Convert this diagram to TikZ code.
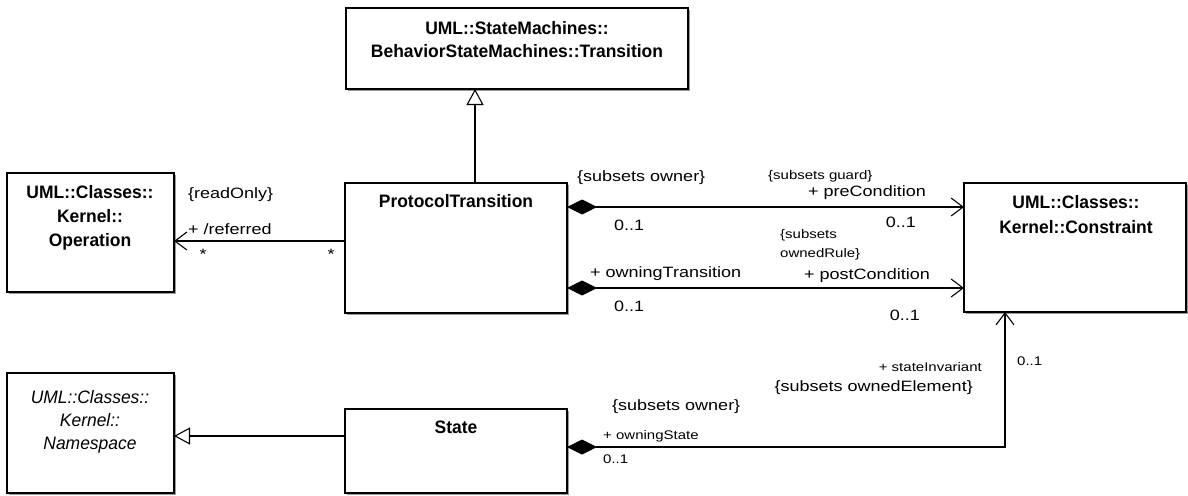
\documentclass[tikz,border=0pt]{standalone}
\usepackage{fontspec}
\setmainfont[FakeStretch=1.2]{Liberation Sans}
\newfontfamily\clsfont[FakeStretch=0.97]{Liberation Sans}
\usetikzlibrary{arrows.meta,shadows}
\begin{document}
\begin{tikzpicture}[x=1pt,y=-1pt,
  cls/.style={draw=black, line width=1.1pt, fill=white, rectangle, inner sep=0pt, outer sep=0pt,
    anchor=north west,
    drop shadow={shadow xshift=2pt, shadow yshift=-2pt, fill=black!55, opacity=0.7}},
  cname/.style={font=\clsfont\bfseries\fontsize{18}{22}\selectfont, anchor=base, inner sep=0pt},
  iname/.style={font=\clsfont\itshape\fontsize{18}{22}\selectfont, anchor=base, inner sep=0pt},
  lbl/.style={font=\fontsize{15}{18}\selectfont, inner sep=0pt},
  slbl/.style={font=\fontsize{12.5}{15}\selectfont, inner sep=0pt},
  comp/.style={line width=1.1pt, {Diamond[length=30pt,width=15pt]}-{Straight Barb[length=12pt,width=18pt,line width=1.1pt]}},
  nav/.style={line width=1.1pt, -{Straight Barb[length=12pt,width=18pt,line width=1.1pt]}},
  gen/.style={line width=1.1pt, -{Triangle[open,length=16pt,width=17pt,fill=white,line width=1.1pt]}}
]
\useasboundingbox (0,0) rectangle (1188,495);
\fill[white] (0,0) rectangle (1188,495);

% class boxes
\node[cls, minimum width=342pt, minimum height=81pt] (trans) at (346,8) {};
\node[cls, minimum width=222pt, minimum height=130pt] (pt) at (345,183) {};
\node[cls, minimum width=167pt, minimum height=119pt] (op) at (7,173) {};
\node[cls, minimum width=222pt, minimum height=129pt] (con) at (964,183) {};
\node[cls, minimum width=167pt, minimum height=120pt] (ns) at (7,373) {};
\node[cls, minimum width=222pt, minimum height=84pt] (st) at (345,409) {};

% class names
\node[cname] (transA) at (517,35) {UML::StateMachines::};
\node[cname] (transB) at (517,58) {BehaviorStateMachines::Transition};
\node[cname] (ptA) at (456,207) {ProtocolTransition};
\node[cname] (opA) at (90,198) {UML::Classes::};
\node[cname] (opB) at (90,222) {Kernel::};
\node[cname] (opC) at (90,246) {Operation};
\node[cname] (conA) at (1076,208) {UML::Classes::};
\node[cname] (conB) at (1076,233) {Kernel::Constraint};
\node[iname] (nsA) at (90,403) {UML::Classes::};
\node[iname] (nsB) at (90,426) {Kernel::};
\node[iname] (nsC) at (90,449) {Namespace};
\node[cname] (stA) at (456,433) {State};

% attachment points
\coordinate (ptTop) at (475,183);
\coordinate (transBot) at (475,89);
\coordinate (ptW) at (345,241);
\coordinate (opE) at (174,241);
\coordinate (ptPre) at (567,207);
\coordinate (conPre) at (964,207);
\coordinate (ptPost) at (567,288);
\coordinate (conPost) at (964,288);
\coordinate (stE) at (567,447);
\coordinate (bend) at (1005,447);
\coordinate (conBot) at (1005,312);
\coordinate (stW) at (345,436);
\coordinate (nsE) at (174,436);

% connectors
\draw[gen] (ptTop) -- (transBot);
\draw[gen] (stW) -- (nsE);
\draw[nav] (ptW) -- (opE);
\draw[comp] (ptPre) -- (conPre);
\draw[comp] (ptPost) -- (conPost);
\draw[comp] (stE) -- (bend) -- (conBot);

% labels: Operation association
\node[lbl, anchor=base west] (l1) at (188,198) {\{readOnly\}};
\node[lbl, anchor=base west] (l2) at (188,234) {+ /referred};
\node[lbl, anchor=base] (l3) at (203,259) {*};
\node[lbl, anchor=base] (l4) at (331,259) {*};

% preCondition
\node[lbl, anchor=base west] (l5) at (577,181) {\{subsets owner\}};
\node[slbl, anchor=base west] (l6) at (768,179) {\{subsets guard\}};
\node[lbl, anchor=base east] (l7) at (926,196) {+ preCondition};
\node[lbl, anchor=base east] (l8) at (916,227) {0..1};
\node[lbl, anchor=base west] (l9) at (614,230) {0..1};

% postCondition
\node[slbl, anchor=base west] (l10) at (780,238) {\{subsets};
\node[slbl, anchor=base west] (l11) at (780,257) {ownedRule\}};
\node[lbl, anchor=base west] (l12) at (590,277) {+ owningTransition};
\node[lbl, anchor=base east] (l13) at (930,279) {+ postCondition};
\node[lbl, anchor=base west] (l14) at (614,311) {0..1};
\node[lbl, anchor=base east] (l15) at (920,320) {0..1};

% stateInvariant
\node[slbl, anchor=base east] (l16) at (982,371) {+ stateInvariant};
\node[lbl, anchor=base east] (l17) at (973,391) {\{subsets ownedElement\}};
\node[slbl, anchor=base west] (l18) at (1017,365) {0..1};
\node[lbl, anchor=base west] (l19) at (612,410) {\{subsets owner\}};
\node[slbl, anchor=base west] (l20) at (603,439) {+ owningState};
\node[slbl, anchor=base west] (l21) at (603,463) {0..1};
\end{tikzpicture}
\end{document}
